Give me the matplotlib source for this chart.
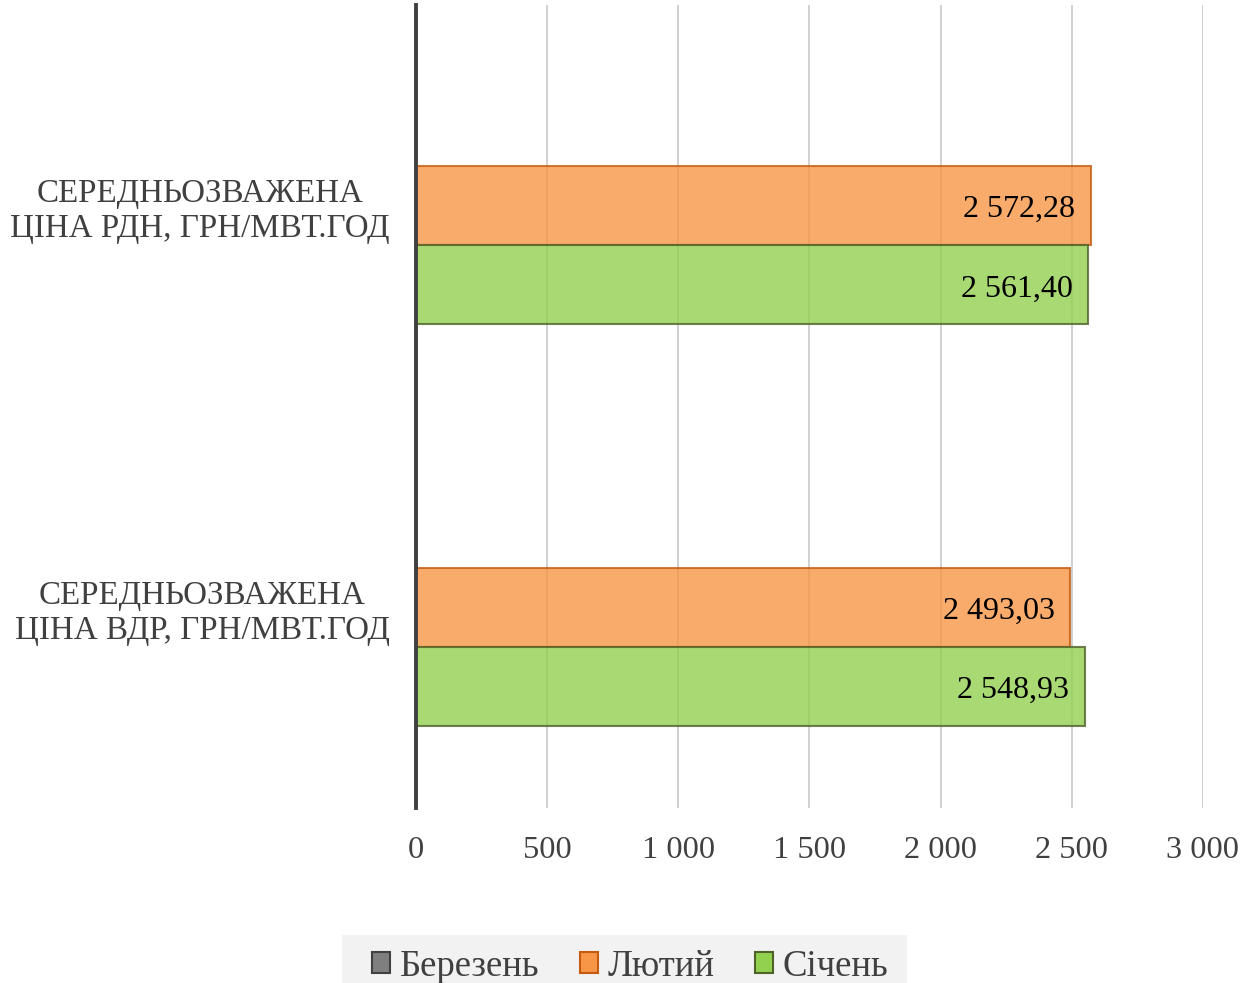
import numpy as np
import matplotlib
matplotlib.use('Agg')
import matplotlib.pyplot as plt
from matplotlib.patches import Patch, Rectangle

# шрифт як у Times New Roman
plt.rcParams['font.family'] = ['Liberation Serif', 'DejaVu Serif']

categories = ['СЕРЕДНЬОЗВАЖЕНА\nЦІНА РДН, ГРН/МВТ.ГОД',
              'СЕРЕДНЬОЗВАЖЕНА\nЦІНА ВДР, ГРН/МВТ.ГОД']
series_names = ['Березень', 'Лютий', 'Січень']
berezen = [np.nan, np.nan]
lyutyi = [2572.28, 2493.03]
sichen = [2561.40, 2548.93]
value_labels_lyutyi = ['2 572,28', '2 493,03']
value_labels_sichen = ['2 561,40', '2 548,93']
x_ticks = [0, 500, 1000, 1500, 2000, 2500, 3000]
x_tick_labels = ['0', '500', '1 000', '1 500', '2 000', '2 500', '3 000']

text_col = '#404040'
face_cols = ['#7F7F7F', '#F79646', '#92D050']
edge_cols = ['#404040', '#C55A11', '#4F6228']

fig = plt.figure(figsize=(12.54, 9.83), dpi=100)
ax = fig.add_axes([0.3317, 0.178, 0.6276, 0.8171])

y = np.arange(len(categories))
h = 0.197
all_series = [berezen, lyutyi, sichen]
offsets = [-h, 0, h]

for vals, off, fc, ec in zip(all_series, offsets, face_cols, edge_cols):
    for yi, v in zip(y, vals):
        if np.isnan(v):
            continue
        ax.barh(yi + off, v, height=h, color=fc, alpha=0.8,
                edgecolor=ec, linewidth=1.5, zorder=3)

# підписи значень
for yi, v, lab in zip(y, lyutyi, value_labels_lyutyi):
    ax.annotate(lab, xy=(v, yi), xytext=(-11, -3), textcoords='offset points',
                ha='right', va='center', fontsize=23, color='black', zorder=4)
for yi, v, lab in zip(y, sichen, value_labels_sichen):
    ax.annotate(lab, xy=(v, yi + h), xytext=(-11, -3), textcoords='offset points',
                ha='right', va='center', fontsize=23, color='black', zorder=4)

ax.set_xlim(0, 3000)
ax.set_ylim(1.5, -0.5)
ax.set_xticks(x_ticks)
ax.set_xticklabels(x_tick_labels, fontsize=23.3, color=text_col)
ax.set_yticks(y)
ax.set_yticklabels(categories, fontsize=23.8, color=text_col, multialignment='center')
ax.tick_params(axis='both', length=0)
ax.tick_params(axis='x', pad=20)
ax.tick_params(axis='y', pad=19)

ax.grid(axis='x', color='#C8C8C8', linewidth=1.2, zorder=0)
for s in ['top', 'right', 'bottom']:
    ax.spines[s].set_visible(False)
ax.spines['left'].set_color(text_col)
ax.spines['left'].set_linewidth(2.8)
ax.spines['left'].set_zorder(5)

# сіра підкладка легенди
fig.patches.append(Rectangle((0.2727, 0.0), 0.4506, 0.0488,
                             transform=fig.transFigure, facecolor='#F2F2F2',
                             edgecolor='none', zorder=0))

handles = [Patch(facecolor=fc, edgecolor=ec, linewidth=1.5)
           for fc, ec in zip(face_cols, edge_cols)]
leg = fig.legend(handles, series_names, loc='center',
                 bbox_to_anchor=(0.5025, 0.0165), ncol=3, fontsize=26.5,
                 frameon=False, handlelength=0.5, handleheight=0.5,
                 handletextpad=0.25, columnspacing=1.1, borderpad=0,
                 borderaxespad=0)
for t in leg.get_texts():
    t.set_color(text_col)

fig.savefig('out.png', dpi=100)
